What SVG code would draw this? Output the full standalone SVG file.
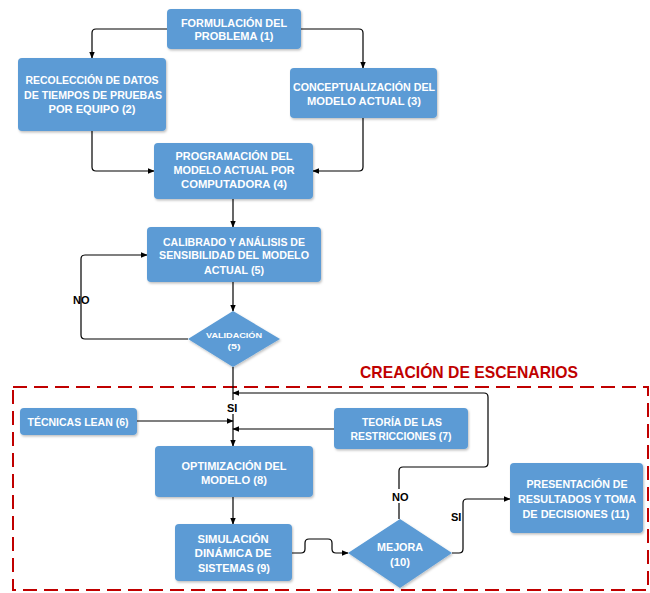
<svg xmlns="http://www.w3.org/2000/svg" width="650" height="593" viewBox="0 0 650 593">
  <defs>
    <marker id="arrow" viewBox="0 0 10 10" refX="9" refY="5" markerWidth="7" markerHeight="7" markerUnits="userSpaceOnUse" orient="auto">
      <path d="M0,1 L10,5 L0,9 Z" fill="#000"/>
    </marker>
    <filter id="shadow" x="-10%" y="-10%" width="130%" height="140%">
      <feDropShadow dx="1" dy="1.5" stdDeviation="1.2" flood-color="#000" flood-opacity="0.25"/>
    </filter>
  </defs>
  <style>
    .box { fill: #5B9BD5; filter: url(#shadow); }
    .lbl { font-family: "Liberation Sans", Arial, sans-serif; font-weight: bold; font-size: 11px; fill: #FFFFFF; text-anchor: middle; }
    .small { font-size: 8px; }
    .cond { font-family: "Liberation Sans", Arial, sans-serif; font-weight: bold; font-size: 11px; fill: #000; }
    .wire { fill: none; stroke: #000; stroke-width: 1.2; stroke-linejoin: round; }
    .head { marker-end: url(#arrow); }
  </style>
  <rect width="650" height="593" fill="#FFFFFF"/>

  <!-- scenario frame -->
  <g id="scenario-frame">
    <rect x="13" y="387" width="635" height="203" fill="none" stroke="#C00000" stroke-width="2" stroke-dasharray="14 7"/>
    <text x="360" y="378" textLength="218" lengthAdjust="spacingAndGlyphs" font-family="'Liberation Sans', Arial, sans-serif" font-weight="bold" font-size="17" fill="#C00000">CREACIÓN DE ESCENARIOS</text>
  </g>

  <!-- connectors -->
  <g id="connectors">
    <path class="wire head" d="M167,29 H96 Q92,29 92,33 V58"/>
    <path class="wire head" d="M301,29 H359 Q363,29 363,33 V68"/>
    <path class="wire head" d="M92,131 V167 Q92,171 96,171 H154"/>
    <path class="wire head" d="M363,118 V167 Q363,171 359,171 H313"/>
    <path class="wire head" d="M233,199 V227"/>
    <path class="wire head" d="M233,282 V311"/>
    <path class="wire head" d="M188,339 H85 Q81,339 81,335 V259 Q81,255 85,255 H147"/>
    <path class="wire head" d="M233,367 V446"/>
    <path class="wire head" d="M399,519 V471 Q399,467 403,467 H484 Q488,467 488,463 V397 Q488,393 484,393 H233"/>
    <path class="wire head" d="M137,421 H233"/>
    <path class="wire head" d="M334,429 H233"/>
    <path class="wire head" d="M233,497 V524"/>
    <path class="wire head" d="M292,553 H301 Q305,553 305,549 V543 Q305,539 309,539 H328 Q332,539 332,543 V549 Q332,553 336,553 H348"/>
    <path class="wire head" d="M452,553 H459 Q463,553 463,549 V503 Q463,499 467,499 H510"/>
    <rect x="225" y="400" width="17" height="14" fill="#FFFFFF"/>
    <text class="cond" x="227" y="412">SI</text>
    <text class="cond" x="73" y="304">NO</text>
    <rect x="390" y="489" width="21" height="14" fill="#FFFFFF"/>
    <text class="cond" x="392" y="501">NO</text>
    <text class="cond" x="451" y="521">SI</text>
  </g>

  <g id="n1">
    <rect class="box" x="167" y="9" width="134" height="40" rx="4"/>
    <text class="lbl" x="234" y="27" textLength="106" lengthAdjust="spacingAndGlyphs">FORMULACIÓN DEL</text>
    <text class="lbl" x="234" y="40" textLength="79" lengthAdjust="spacingAndGlyphs">PROBLEMA (1)</text>
  </g>

  <g id="n2">
    <rect class="box" x="18" y="58" width="148" height="73" rx="4"/>
    <text class="lbl" x="92" y="84" textLength="133" lengthAdjust="spacingAndGlyphs">RECOLECCIÓN DE DATOS</text>
    <text class="lbl" x="93" y="99" textLength="138" lengthAdjust="spacingAndGlyphs">DE TIEMPOS DE PRUEBAS</text>
    <text class="lbl" x="92" y="113" textLength="87" lengthAdjust="spacingAndGlyphs">POR EQUIPO (2)</text>
  </g>

  <g id="n3">
    <rect class="box" x="290" y="68" width="147" height="50" rx="4"/>
    <text class="lbl" x="364" y="91" textLength="142" lengthAdjust="spacingAndGlyphs">CONCEPTUALIZACIÓN DEL</text>
    <text class="lbl" x="364" y="105" textLength="114" lengthAdjust="spacingAndGlyphs">MODELO ACTUAL (3)</text>
  </g>

  <g id="n4">
    <rect class="box" x="154" y="143" width="159" height="56" rx="4"/>
    <text class="lbl" x="234" y="160" textLength="117" lengthAdjust="spacingAndGlyphs">PROGRAMACIÓN DEL</text>
    <text class="lbl" x="234" y="174" textLength="121" lengthAdjust="spacingAndGlyphs">MODELO ACTUAL POR</text>
    <text class="lbl" x="234" y="188" textLength="106" lengthAdjust="spacingAndGlyphs">COMPUTADORA (4)</text>
  </g>

  <g id="n5">
    <rect class="box" x="147" y="227" width="174" height="55" rx="4"/>
    <text class="lbl" x="234" y="246" textLength="142" lengthAdjust="spacingAndGlyphs">CALIBRADO Y ANÁLISIS DE</text>
    <text class="lbl" x="234" y="259" textLength="150" lengthAdjust="spacingAndGlyphs">SENSIBILIDAD DEL MODELO</text>
    <text class="lbl" x="234" y="274" textLength="60" lengthAdjust="spacingAndGlyphs">ACTUAL (5)</text>
  </g>

  <g id="validacion">
    <polygon class="box" points="233,311 280,339 233,367 188,339"/>
    <text class="lbl small" x="234" y="338" textLength="56" lengthAdjust="spacingAndGlyphs">VALIDACIÓN</text>
    <text class="lbl small" x="234" y="349" textLength="13" lengthAdjust="spacingAndGlyphs">(5)</text>
  </g>

  <g id="n6">
    <rect class="box" x="20" y="408" width="117" height="27" rx="4"/>
    <text class="lbl" x="78" y="426" textLength="101" lengthAdjust="spacingAndGlyphs">TÉCNICAS LEAN (6)</text>
  </g>

  <g id="n7">
    <rect class="box" x="334" y="408" width="134" height="41" rx="4"/>
    <text class="lbl" x="402" y="426" textLength="80" lengthAdjust="spacingAndGlyphs">TEORÍA DE LAS</text>
    <text class="lbl" x="401" y="440" textLength="101" lengthAdjust="spacingAndGlyphs">RESTRICCIONES (7)</text>
  </g>

  <g id="n8">
    <rect class="box" x="155" y="446" width="158" height="51" rx="4"/>
    <text class="lbl" x="234" y="470" textLength="105" lengthAdjust="spacingAndGlyphs">OPTIMIZACIÓN DEL</text>
    <text class="lbl" x="234" y="484" textLength="66" lengthAdjust="spacingAndGlyphs">MODELO (8)</text>
  </g>

  <g id="n9">
    <rect class="box" x="175" y="524" width="117" height="57" rx="4"/>
    <text class="lbl" x="233" y="543" textLength="71" lengthAdjust="spacingAndGlyphs">SIMULACIÓN</text>
    <text class="lbl" x="233" y="557" textLength="77" lengthAdjust="spacingAndGlyphs">DINÁMICA DE</text>
    <text class="lbl" x="234" y="572" textLength="72" lengthAdjust="spacingAndGlyphs">SISTEMAS (9)</text>
  </g>

  <g id="mejora">
    <polygon class="box" points="400,519 452,553 400,588 348,553"/>
    <text class="lbl" x="400" y="551" textLength="46" lengthAdjust="spacingAndGlyphs">MEJORA</text>
    <text class="lbl" x="400" y="566" textLength="20" lengthAdjust="spacingAndGlyphs">(10)</text>
  </g>

  <g id="n11">
    <rect class="box" x="510" y="463" width="133" height="70" rx="4"/>
    <text class="lbl" x="577" y="488" textLength="101" lengthAdjust="spacingAndGlyphs">PRESENTACIÓN DE</text>
    <text class="lbl" x="577" y="503" textLength="118" lengthAdjust="spacingAndGlyphs">RESULTADOS Y TOMA</text>
    <text class="lbl" x="576" y="518" textLength="107" lengthAdjust="spacingAndGlyphs">DE DECISIONES (11)</text>
  </g>
</svg>
